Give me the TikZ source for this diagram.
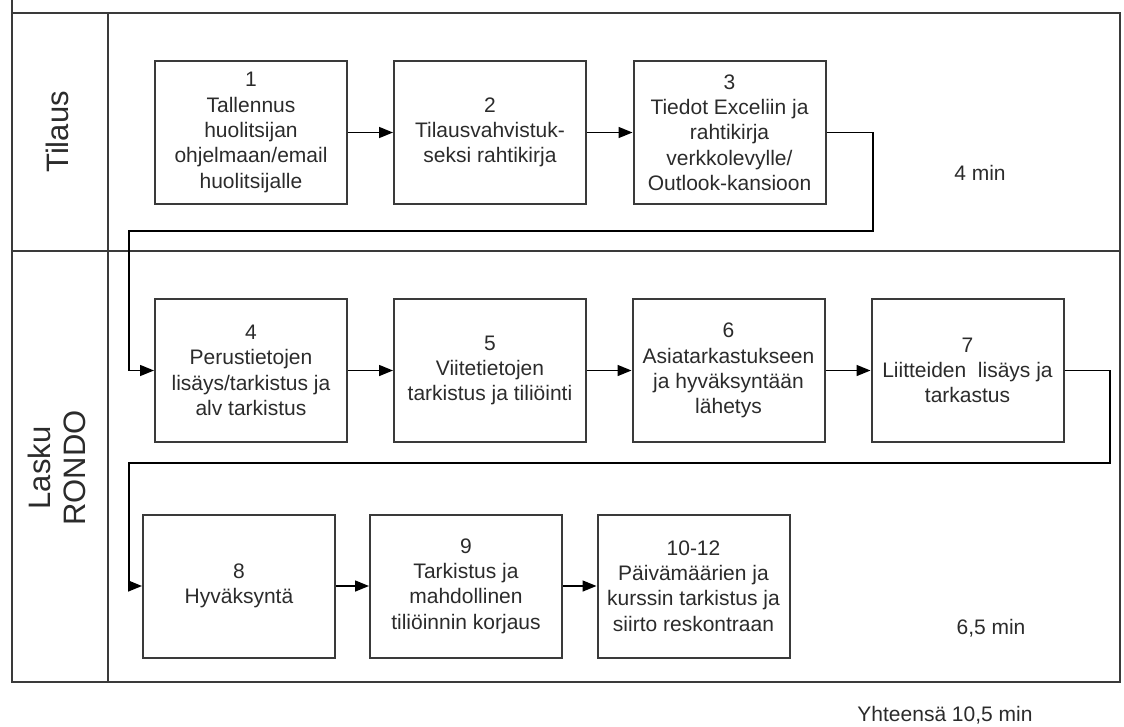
\documentclass[tikz,border=0pt]{standalone}
\usepackage{fontspec}
\setmainfont{Liberation Sans}
\usetikzlibrary{arrows.meta}
\definecolor{ink}{HTML}{2B2B2B}
\definecolor{rule}{HTML}{3A3A3A}
\begin{document}
\begin{tikzpicture}[x=1pt,y=-1pt,
  frame/.style={draw=rule,line width=2.2pt},
  stepbox/.style={draw=rule,line width=2pt,minimum width=192pt,minimum height=143pt,
    inner sep=0pt,align=center,text=ink,font=\fontsize{21}{25.3}\selectfont},
  lanelabel/.style={rotate=90,align=center,text=ink,font=\fontsize{31}{35}\selectfont},
  note/.style={text=ink,font=\fontsize{21}{25}\selectfont},
  flow/.style={draw=black,line width=1.5pt,-{Triangle[length=14pt,width=11pt]}},
  link/.style={draw=black,line width=1.5pt}]
\useasboundingbox (0,0) rectangle (1124,726);

% swimlane frame
\draw[frame] (12,0) -- (12,682) -- (1120,682) -- (1120,13) -- (12,13);
\draw[frame] (12,251) -- (1120,251);
\draw[frame] (108,13) -- (108,682);

% lane titles
\node[lanelabel] (laneA) at (57,132) {Tilaus};
\node[lanelabel] (laneB) at (57,468) {Lasku\\RONDO};

% order lane
\node[stepbox] (b1) at (251,132.5) {1\\Tallennus\\huolitsijan\\ohjelmaan/email\\huolitsijalle};
\node[stepbox] (b2) at (490,132.5) {2\\Tilausvahvistuk-\\seksi rahtikirja};
\node[stepbox] (b3) at (729.5,132.5) {3\\Tiedot Exceliin ja\\rahtikirja\\verkkolevylle/\\Outlook-kansioon};

% invoice lane, first row
\node[stepbox] (b4) at (251,370.5) {4\\Perustietojen\\lisäys/tarkistus ja\\alv tarkistus};
\node[stepbox] (b5) at (490,370.5) {5\\Viitetietojen\\tarkistus ja tiliöinti};
\node[stepbox] (b6) at (728.5,370.5) {6\\Asiatarkastukseen\\ja hyväksyntään\\lähetys};
\node[stepbox] (b7) at (967.5,370.5) {7\\Liitteiden\ \ lisäys ja\\tarkastus};

% invoice lane, second row
\node[stepbox] (b8) at (239,586) {8\\Hyväksyntä};
\node[stepbox] (b9) at (466,586) {9\\Tarkistus ja\\mahdollinen\\tiliöinnin korjaus};
\node[stepbox] (b10) at (693.5,586) {10-12\\Päivämäärien ja\\kurssin tarkistus ja\\siirto reskontraan};

% durations
\node[note] (t1) at (980,173) {4 min};
\node[note] (t2) at (991,628) {6,5 min};
\node[note] (t3) at (945,715) {Yhteensä 10,5 min};

% straight links
\draw[flow] (b1.east) -- (b2.west);
\draw[flow] (b2.east) -- (b3.west);
\draw[flow] (b4.east) -- (b5.west);
\draw[flow] (b5.east) -- (b6.west);
\draw[flow] (b6.east) -- (b7.west);
\draw[flow] (b8.east) -- (b9.west);
\draw[flow] (b9.east) -- (b10.west);

% return links between rows
\coordinate (r1) at (873,231);
\coordinate (l1) at (129,231);
\draw[flow] (b3.east) -| (r1) -- (l1) |- (b4.west);
\coordinate (r2) at (1110,463);
\coordinate (l2) at (129,463);
\draw[flow] (b7.east) -| (r2) -- (l2) |- (b8.west);
\end{tikzpicture}
\end{document}
